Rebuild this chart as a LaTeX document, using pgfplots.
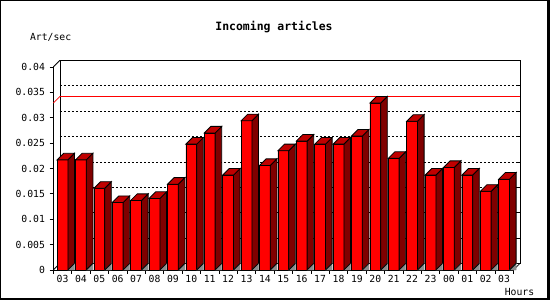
\documentclass[border=0pt]{standalone}
\usepackage{pgfplots}
\pgfplotsset{compat=1.18}
\usepackage{pgfplotstable}
\usepackage{fontspec}
\setmainfont{DejaVu Sans Mono}
\definecolor{barfront}{HTML}{FF0000}
\definecolor{bartop}{HTML}{C00000}
\definecolor{barside}{HTML}{800000}
\definecolor{floorgray}{HTML}{8C8C8C}
\pgfdeclareplotmark{nothing}{}

\pgfplotstableread{
pos  val
0.5  0.0217
1.5  0.0217
2.5  0.0161
3.5  0.0133
4.5  0.0137
5.5  0.0141
6.5  0.0169
7.5  0.0248
8.5  0.0270
9.5  0.0187
10.5 0.0294
11.5 0.0206
12.5 0.0235
13.5 0.0254
14.5 0.0248
15.5 0.0248
16.5 0.0264
17.5 0.0329
18.5 0.0220
19.5 0.0293
20.5 0.0187
21.5 0.0202
22.5 0.0187
23.5 0.0155
24.5 0.0179
}\datatable

\begin{document}
\begin{tikzpicture}[x=1bp,y=1bp]
\useasboundingbox (0,0) rectangle (550,300);
\fill[black] (0,0) rectangle (550,300);
\fill[white] (1,2.5) rectangle (547,299);
\begin{axis}[
  at={(53.3bp,30bp)}, anchor=south west,
  scale only axis, width=460bp, height=203bp,
  xmin=0, xmax=25, ymin=0, ymax=0.04,
  clip=false,
  axis lines=left, axis line style={-, line width=0.8bp},
  tick align=outside,
  major tick length=3.6bp,
  tick style={black, line width=0.8bp},
  xtick={0,1,...,25},
  x tick label as interval,
  xticklabels={03,04,05,06,07,08,09,10,11,12,13,14,15,16,17,18,19,20,21,22,23,00,01,02,03},
  ytick={0,0.005,0.01,0.015,0.02,0.025,0.03,0.035,0.04},
  yticklabels={0,0.005,0.01,0.015,0.02,0.025,0.03,0.035,0.04},
  scaled y ticks=false,
  ymajorgrids,
  major grid style={black, line width=0.8bp, dash pattern=on 2bp off 2bp, xshift=6.6bp, yshift=6.6bp},
  tick label style={font=\fontsize{9.8}{10}\selectfont, inner sep=0pt},
  yticklabel style={anchor=east, xshift=-4.5bp},
  xticklabel style={anchor=north, yshift=-1.5bp},
  point meta min=0, point meta max=0.04,
]
% back wall frame and depth edges
\draw[black, line width=0.8bp] ([shift={(6.6bp,6.6bp)}]axis cs:0,0) rectangle ([shift={(6.6bp,6.6bp)}]axis cs:25,0.04);
\draw[black, line width=0.8bp] (axis cs:0,0.04) -- ([shift={(6.6bp,6.6bp)}]axis cs:0,0.04);
\draw[black, line width=0.8bp] (axis cs:0,0) -- ([shift={(6.6bp,6.6bp)}]axis cs:0,0);
\draw[black, line width=0.8bp] (axis cs:25,0) -- ([shift={(6.6bp,6.6bp)}]axis cs:25,0);
\pgfplotsinvokeforeach{0.005,0.01,0.015,0.02,0.025,0.03,0.035}{
  \draw[black, line width=0.8bp] ([shift={(6.6bp,6.6bp)}]axis cs:25,#1) -- ([shift={(3bp,6.6bp)}]axis cs:25,#1);
}
% maximum line
\addplot[red, line width=0.8bp] coordinates {(0,0.0329) (0.3587,0.0342) (25.3587,0.0342)};
% front faces
\addplot[ybar, bar width=10.8bp, bar shift=0pt, fill=barfront, draw=black, line width=0.8bp] table[x=pos,y=val]{\datatable};
% side and top faces
\addplot[scatter, only marks, mark=nothing, point meta=y,
  scatter/@pre marker code/.code={%
    \pgfmathsetmacro\yb{-\pgfplotspointmetatransformed*0.203}%
    \pgfmathsetmacro\yc{6.6-\pgfplotspointmetatransformed*0.203}%
    \filldraw[fill=barside, draw=black, line width=0.8bp] (5.4bp,0bp) -- (12bp,6.6bp) -- (12bp,\yc bp) -- (5.4bp,\yb bp) -- cycle;
    \fill[floorgray] (5.4bp,\yb bp) -- (12bp,\yc bp) -- (12bp,\yb bp) -- cycle;
    \draw[black, line width=0.8bp] (5.4bp,\yb bp) -- (12bp,\yc bp);
    \filldraw[fill=bartop, draw=black, line width=0.8bp] (-5.4bp,0bp) -- (5.4bp,0bp) -- (12bp,6.6bp) -- (1.2bp,6.6bp) -- cycle;
  },
  scatter/@post marker code/.code={}
] table[x=pos,y=val]{\datatable};
\end{axis}
\node[font=\bfseries\fontsize{11.5}{12}\selectfont, anchor=base, inner sep=0pt] at (274,269.3) {Incoming articles};
\node[font=\fontsize{9.8}{10}\selectfont, anchor=base, inner sep=0pt] at (50.6,259.7) {Art/sec};
\node[font=\fontsize{9.8}{10}\selectfont, anchor=base, inner sep=0pt] at (519.5,4.7) {Hours};
\end{tikzpicture}
\end{document}
